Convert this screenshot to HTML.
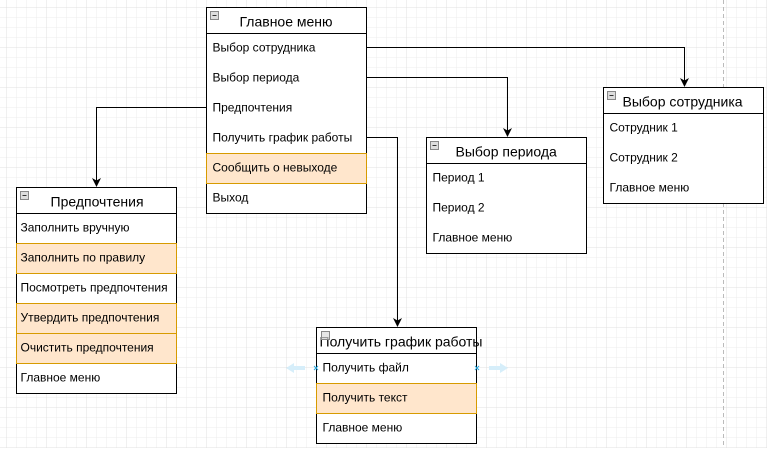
<!DOCTYPE html>
<html><head><meta charset="utf-8"><style>
body{margin:0;width:767px;height:448px;overflow:hidden;background:#fff}
text{font-family:"Liberation Sans",sans-serif;fill:#000}
.t{font-size:14px}.r{font-size:12px}
</style></head><body>
<svg width="767" height="448" xmlns="http://www.w3.org/2000/svg">
<defs>
<pattern id="g" width="10" height="10" patternUnits="userSpaceOnUse" x="6" y="7">
<path d="M10 0H0V10" fill="none" stroke="#ececec" stroke-width="1"/></pattern>
<pattern id="G" width="40" height="40" patternUnits="userSpaceOnUse" x="6" y="7">
<path d="M40 0H0V40" fill="none" stroke="#e0e0e0" stroke-width="1"/></pattern>
<marker id="a" markerWidth="10" markerHeight="10" refX="8" refY="5" orient="auto" markerUnits="userSpaceOnUse">
<path d="M0 0.5L9 5L0 9.5L2.5 5Z" fill="#000"/></marker>
</defs>
<rect width="767" height="448" fill="url(#g)"/>
<rect width="767" height="448" fill="url(#G)"/>
<line x1="723.5" y1="0" x2="723.5" y2="448" stroke="#bbb" stroke-dasharray="4,3"/>
<g fill="none" stroke="#000" stroke-width="1">
<path d="M367 47.5H684.5V86" marker-end="url(#a)"/>
<path d="M367 77.5H507.5V136" marker-end="url(#a)"/>
<path d="M206 107.5H96.5V186" marker-end="url(#a)"/>
<path d="M367 137.5H397.5V326" marker-end="url(#a)"/>
</g>
<g transform="translate(206.5,7.5)">
<rect width="160" height="206" fill="#fff" stroke="#000"/>
<rect y="146" width="160" height="30" fill="#ffe6cc" stroke="#d79b00"/>
<line x1="0" y1="26" x2="160" y2="26" stroke="#000"/>
<rect x="4" y="4" width="8" height="8" fill="#ddd" stroke="#888"/><line x1="6" y1="8" x2="10" y2="8" stroke="#333"/>
<text class="t" x="33" y="19">Главное меню</text>
<text class="r" x="6" y="44">Выбор сотрудника</text>
<text class="r" x="6" y="74">Выбор периода</text>
<text class="r" x="6" y="104">Предпочтения</text>
<text class="r" x="6" y="134">Получить график работы</text>
<text class="r" x="6" y="164">Сообщить о невыходе</text>
<text class="r" x="6" y="194">Выход</text>
</g>
<g transform="translate(16.5,187.5)">
<rect width="160" height="206" fill="#fff" stroke="#000"/>
<rect y="56" width="160" height="30" fill="#ffe6cc" stroke="#d79b00"/>
<rect y="116" width="160" height="30" fill="#ffe6cc" stroke="#d79b00"/>
<rect y="146" width="160" height="30" fill="#ffe6cc" stroke="#d79b00"/>
<line x1="0" y1="26" x2="160" y2="26" stroke="#000"/>
<rect x="4" y="4" width="8" height="8" fill="#ddd" stroke="#888"/><line x1="6" y1="8" x2="10" y2="8" stroke="#333"/>
<text class="t" x="34" y="19">Предпочтения</text>
<text class="r" x="4" y="44">Заполнить вручную</text>
<text class="r" x="4" y="74">Заполнить по правилу</text>
<text class="r" x="4" y="104">Посмотреть предпочтения</text>
<text class="r" x="4" y="134">Утвердить предпочтения</text>
<text class="r" x="4" y="164">Очистить предпочтения</text>
<text class="r" x="4" y="194">Главное меню</text>
</g>
<g transform="translate(426.5,137.5)">
<rect width="160" height="116" fill="#fff" stroke="#000"/>
<line x1="0" y1="26" x2="160" y2="26" stroke="#000"/>
<rect x="4" y="4" width="8" height="8" fill="#ddd" stroke="#888"/><line x1="6" y1="8" x2="10" y2="8" stroke="#333"/>
<text class="t" x="29" y="19">Выбор периода</text>
<text class="r" x="6" y="44">Период 1</text>
<text class="r" x="6" y="74">Период 2</text>
<text class="r" x="6" y="104">Главное меню</text>
</g>
<g transform="translate(603.5,87.5)">
<rect width="160" height="116" fill="#fff" stroke="#000"/>
<line x1="0" y1="26" x2="160" y2="26" stroke="#000"/>
<rect x="4" y="4" width="8" height="8" fill="#ddd" stroke="#888"/><line x1="6" y1="8" x2="10" y2="8" stroke="#333"/>
<text class="t" x="19" y="19">Выбор сотрудника</text>
<text class="r" x="6" y="44">Сотрудник 1</text>
<text class="r" x="6" y="74">Сотрудник 2</text>
<text class="r" x="6" y="104">Главное меню</text>
</g>
<g transform="translate(316.5,327.5)">
<rect width="160" height="116" fill="#fff" stroke="#000"/>
<rect y="56" width="160" height="30" fill="#ffe6cc" stroke="#d79b00"/>
<line x1="0" y1="26" x2="160" y2="26" stroke="#000"/>
<text class="t" x="3" y="19">Получить график работы</text>
<rect x="5" y="4" width="8" height="8" fill="#ddd" fill-opacity="0.7" stroke="#888"/>
<text class="r" x="6" y="44">Получить файл</text>
<text class="r" x="6" y="74">Получить текст</text>
<text class="r" x="6" y="104">Главное меню</text>
</g>
<g fill="#d6eefa">
<path d="M286 368L294 363V366H305V370H294V373Z"/>
<path d="M508 368L500 363V366H489V370H500V373Z"/>
</g>
<g stroke="#29a8e0" stroke-width="1">
<path d="M314 366l4 4M318 366l-4 4"/><path d="M475 366l4 4M479 366l-4 4"/>
</g>
</svg>
</body></html>
